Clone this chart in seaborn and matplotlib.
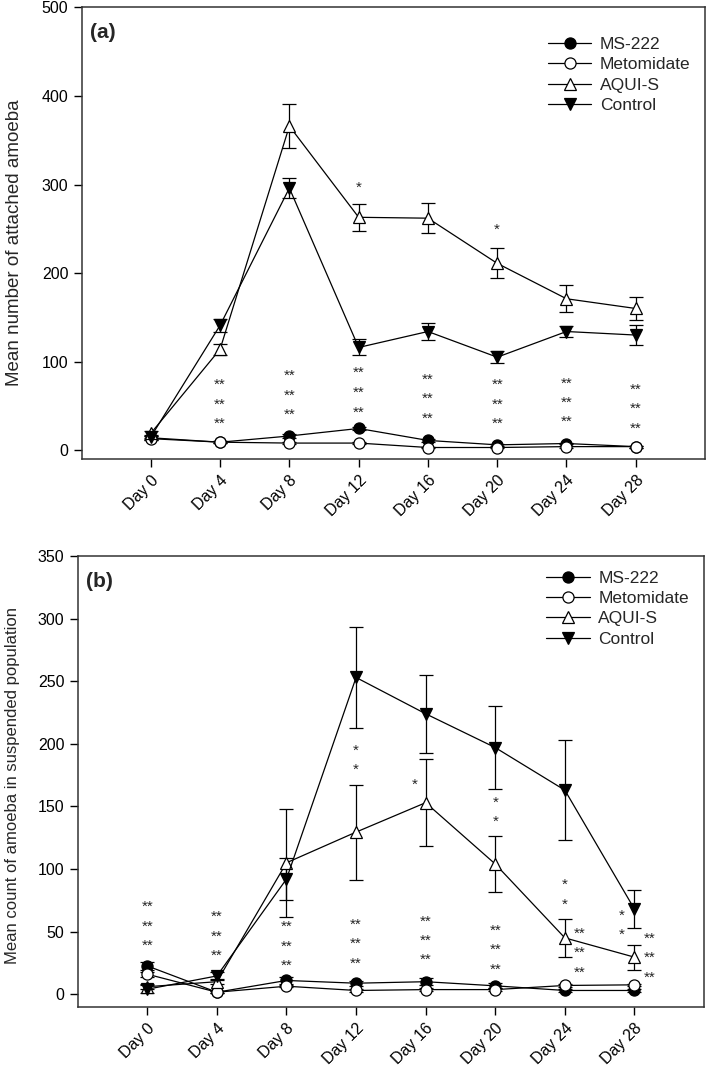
import numpy as np
import matplotlib
matplotlib.use("Agg")
import matplotlib.pyplot as plt
import seaborn as sns

days = ['Day 0', 'Day 4', 'Day 8', 'Day 12', 'Day 16', 'Day 20', 'Day 24', 'Day 28']
series = ['MS-222', 'Metomidate', 'AQUI-S', 'Control']

# panel (a): attached amoeba, mean and error
a_ms222 = [14, 9, 16, 24.5, 11, 6, 7.5, 4]
a_ms222_err = [2, 1, 2, 2, 1.5, 1, 1, 1]
a_metomidate = [13, 9, 8, 8, 3, 3, 4, 4]
a_metomidate_err = [1, 1, 1, 1, 1, 1, 1, 1]
a_aquis = [19, 114, 366, 263, 262, 211, 171, 160]
a_aquis_err = [3, 6, 25, 15.5, 17, 17, 15, 13]
a_control = [15, 141, 296, 116, 134, 105, 134, 130]
a_control_err = [2, 7, 11, 9, 10, 7, 6, 11]

# panel (b): suspended population
b_ms222 = [22.6, 1.6, 11, 8.8, 10, 6.7, 3, 3]
b_ms222_err = [3, 1, 3, 2, 3, 2, 1, 1]
b_metomidate = [16, 1.6, 6.4, 3, 3.7, 3.7, 7, 7.5]
b_metomidate_err = [2, 1, 1, 1, 1, 1, 1, 1]
b_aquis = [6, 10, 105, 129.5, 153, 104, 45, 29.6]
b_aquis_err = [2, 2, 43, 38, 35, 22.5, 15, 10]
b_control = [4, 14.6, 92, 253, 224, 197, 163, 68]
b_control_err = [3, 3, 17, 40, 31, 33, 40, 15]

# significance marks (x position, y of each mark)
a_marks_single = [(3, 299), (5, 251)]
a_marks_double = [(1, [76, 54, 32]), (2, [86, 64, 42]), (3, [89.6, 67.4, 45]),
                  (4, [82, 60, 38]), (5, [76, 54, 32]), (6, [78, 55.7, 34]),
                  (7, [70.8, 49, 26.7])]
b_marks_single = [(3, 196.5), (3, 181.2), (3.84, 169.4), (5, 154.8), (5, 139.3),
                  (6, 89), (6, 73.5), (6.82, 64.7), (6.82, 49.5)]
b_marks_double = [(0, [71.4, 56, 40.5]), (1, [63.4, 48, 32.5]), (2, [55.4, 40, 24.5]),
                  (3, [57.5, 42, 26.4]), (4, [60, 44.5, 29]), (5, [52.5, 37, 21.6]),
                  (6.21, [50, 34.7, 19.2]), (7.22, [46, 30.6, 14.6])]

sns.set_style("ticks")
plt.rcParams['font.family'] = ['Liberation Sans', 'DejaVu Sans']

styles = {
    'MS-222': dict(marker='o', markerfacecolor='black'),
    'Metomidate': dict(marker='o', markerfacecolor='white'),
    'AQUI-S': dict(marker='^', markerfacecolor='white'),
    'Control': dict(marker='v', markerfacecolor='black'),
}


def draw_panel(ax, vals, errs, ylim, yticks, tag, singles, doubles, star_off, leg_y):
    x = np.arange(len(days))
    for i, name in enumerate(series):
        ax.errorbar(x, vals[i], yerr=errs[i], fmt='none', ecolor='black',
                    elinewidth=0.9, capsize=5, capthick=0.9, zorder=2)
        sns.lineplot(x=x, y=vals[i], ax=ax, color='black', linewidth=0.9,
                     markersize=8, markeredgecolor='black', markeredgewidth=0.9,
                     label=name, zorder=3 + i, **styles[name])
    for sx, sy in singles:
        ax.text(sx, sy - star_off, '*', ha='center', va='baseline', fontsize=11)
    for dx, ys in doubles:
        for yy in ys:
            ax.text(dx, yy - star_off, '**', ha='center', va='baseline', fontsize=11)

    ax.set_xlim(-1, 8)
    ax.set_ylim(*ylim)
    ax.set_yticks(yticks)
    ax.set_xticks(x)
    ax.set_xticklabels(days, rotation=45, ha='right', va='top', rotation_mode='anchor')
    ax.tick_params(direction='out', length=6, width=1, labelsize=11.5, colors='black')
    ax.tick_params(axis='x', pad=4)
    for s in ax.spines.values():
        s.set_visible(True)
        s.set_linewidth(1.1)
        s.set_color('#333333')
    ax.set_xlabel('')
    ax.text(0.014, 0.965, tag, transform=ax.transAxes, fontsize=15,
            fontweight='bold', va='top', ha='left')
    ax.legend(loc='upper left', bbox_to_anchor=(0.748, leg_y), frameon=False,
              fontsize=12.5, handlelength=2.5, handletextpad=0.5, labelspacing=0.3,
              borderpad=0, borderaxespad=0)
    return ax


fig = plt.figure(figsize=(7.09, 10.65), dpi=100)
ax1 = fig.add_axes([0.115, 0.569, 0.8794, 0.424])
ax2 = fig.add_axes([0.1096, 0.0547, 0.8834, 0.4232])

draw_panel(ax1, [a_ms222, a_metomidate, a_aquis, a_control],
           [a_ms222_err, a_metomidate_err, a_aquis_err, a_control_err],
           (-10, 500), range(0, 501, 100), '(a)',
           a_marks_single, a_marks_double, 7, 0.935)
ax1.set_ylabel('Mean number of attached amoeba', fontsize=13.5)
ax1.yaxis.set_label_coords(-0.094, 0.48)

draw_panel(ax2, [b_ms222, b_metomidate, b_aquis, b_control],
           [b_ms222_err, b_metomidate_err, b_aquis_err, b_control_err],
           (-10, 350), range(0, 351, 50), '(b)',
           b_marks_single, b_marks_double, 5, 0.968)
ax2.set_ylabel('Mean count of amoeba in suspended population', fontsize=12)
ax2.yaxis.set_label_coords(-0.092, 0.49)

fig.savefig('out.png', dpi=100)
